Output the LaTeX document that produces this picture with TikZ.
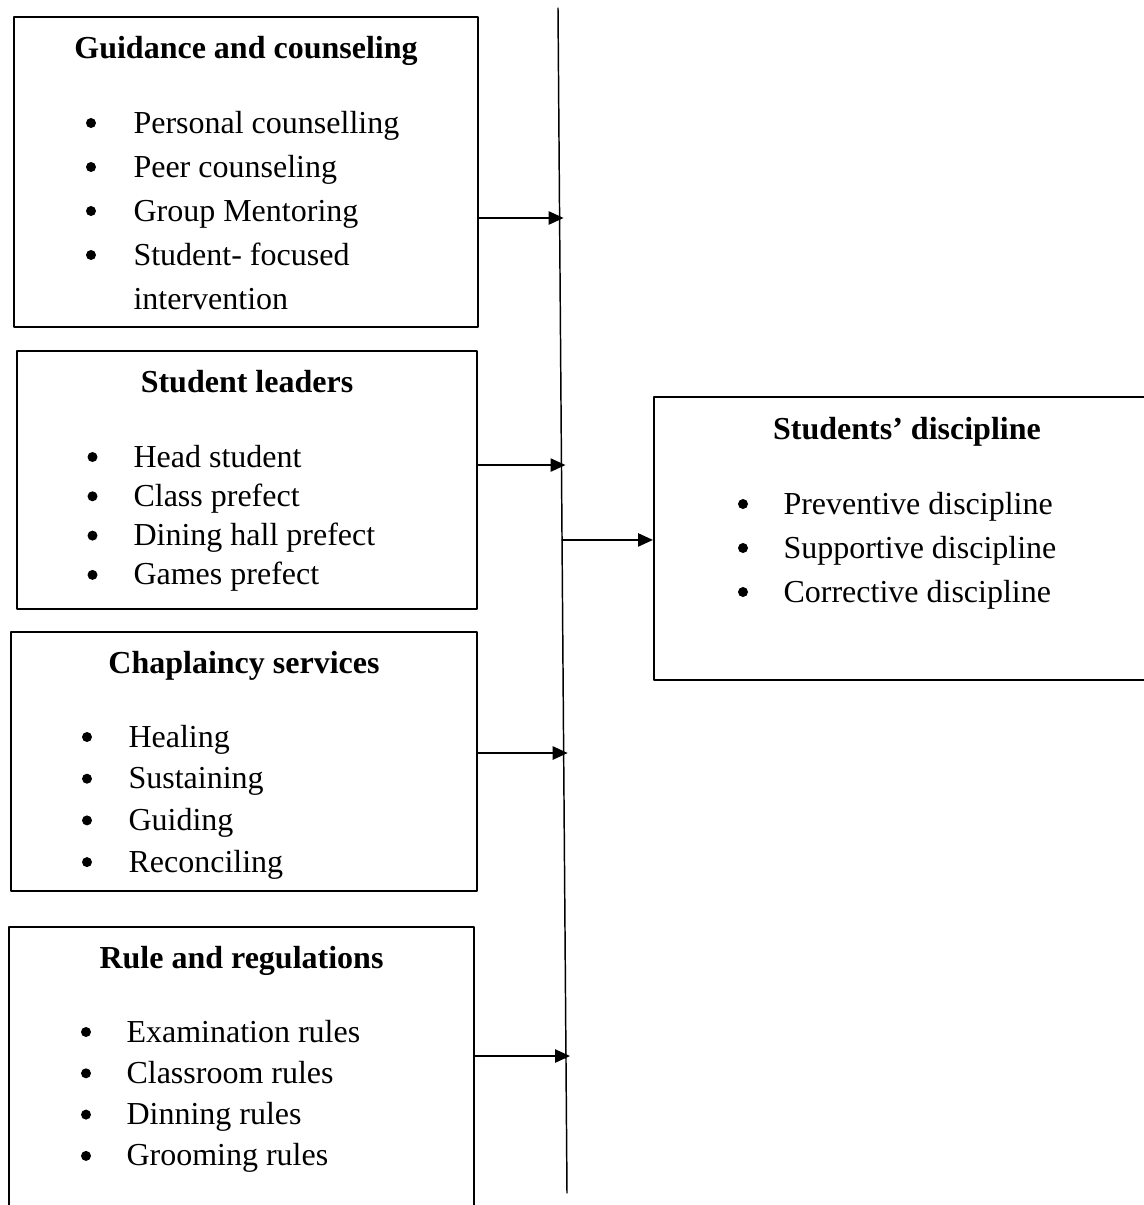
\documentclass[tikz,border=0pt,12pt]{standalone}
\usepackage{fontspec}
\setmainfont{Liberation Serif}
\usetikzlibrary{arrows.meta,calc,fit}

\begin{document}
\begin{tikzpicture}[line cap=round,line join=round,>={Triangle[length=5.6pt,width=5pt]},x=0.375pt,y=-0.375pt,
	box/.style={draw,line width=0.8pt,inner sep=0pt},
	head/.style={anchor=base,font=\bfseries},
	item/.style={anchor=base west,inner sep=0pt},
	link/.style={->,line width=0.55pt,shorten >=-1.5pt}]
	\useasboundingbox (0,0) rectangle (1144,1205);
	\clip(0,0) rectangle (1144,1205);
	% boxes
	\node[box,fit={(14,17) (478,327)}] (guide) {};
	\node[box,fit={(17,351) (477,609)}] (lead) {};
	\node[box,fit={(11,632) (477,891)}] (chap) {};
	\node[box,fit={(9,927) (474,1240)}] (rule) {};
	\node[box,fit={(654,397) (1160,680)}] (disc) {};
	% headings
	\node[head] (guideT) at (guide.center |- 0,58) {Guidance and counseling};
	\node[head] (leadT) at (lead.center |- 0,392) {Student leaders};
	\node[head] (chapT) at (chap.center |- 0,673) {Chaplaincy services};
	\node[head] (ruleT) at (rule.center |- 0,968) {Rule and regulations};
	\node[head] (discT) at (disc.center |- 0,439) {Students’ discipline};
	% items, each with its bullet
	\foreach \t [count=\i from 0] in {Personal counselling,Peer counseling,Group Mentoring,Student- focused}{
		\node[item] (guide\i) at (133,133+44*\i) {\t};
		\fill ($(guide\i.base west)+(-42,-10)$) circle (5);
	}
	\node[item] (guide4) at (133,309) {intervention};
	\foreach \t [count=\i from 0] in {Head student,Class prefect,Dining hall prefect,Games prefect}{
		\node[item] (lead\i) at (133,467+39.3*\i) {\t};
		\fill ($(lead\i.base west)+(-40.5,-10)$) circle (5);
	}
	\foreach \t [count=\i from 0] in {Healing,Sustaining,Guiding,Reconciling}{
		\node[item] (chap\i) at (128,747+41.7*\i) {\t};
		\fill ($(chap\i.base west)+(-41,-10)$) circle (5);
	}
	\foreach \t [count=\i from 0] in {Examination rules,Classroom rules,Dinning rules,Grooming rules}{
		\node[item] (rule\i) at (126,1042+41.3*\i) {\t};
		\fill ($(rule\i.base west)+(-40,-10)$) circle (5);
	}
	\foreach \t [count=\i from 0] in {Preventive discipline,Supportive discipline,Corrective discipline}{
		\node[item] (disc\i) at (783,514+44*\i) {\t};
		\fill ($(disc\i.base west)+(-40,-10)$) circle (5);
	}
	% vertical line and arrows
	\coordinate (top) at (558,8);
	\coordinate (bot) at (567,1193);
	\draw[line width=0.55pt] (top) -- (bot);
	\coordinate (j1) at ($(top)!0.1772!(bot)$);
	\coordinate (j2) at ($(top)!0.3857!(bot)$);
	\coordinate (j3) at ($(top)!0.6287!(bot)$);
	\coordinate (j4) at ($(top)!0.8844!(bot)$);
	\coordinate (j5) at ($(top)!0.4489!(bot)$);
	\draw[link] (j1 -| guide.east) -- (j1);
	\draw[link] (j2 -| lead.east) -- (j2);
	\draw[link] (j3 -| chap.east) -- (j3);
	\draw[link] (j4 -| rule.east) -- (j4);
	\draw[link,shorten >=0pt] (j5) -- (j5 -| disc.west);
\end{tikzpicture}
\end{document}
